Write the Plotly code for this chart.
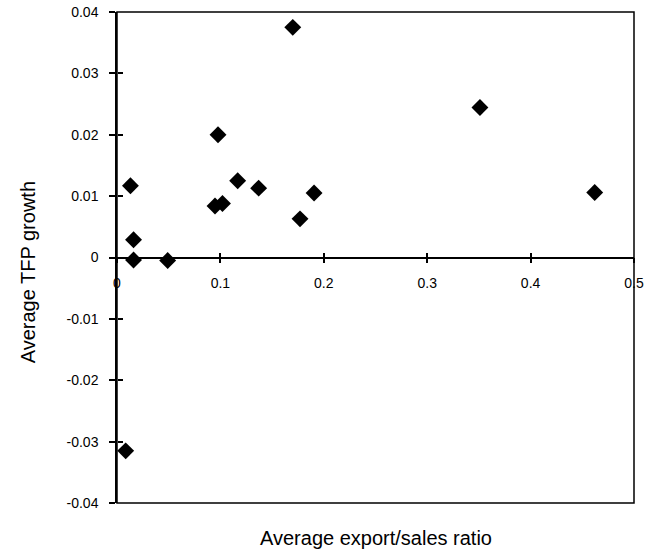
import plotly.graph_objects as go

export_ratio = [0.013, 0.016, 0.016, 0.049, 0.0977, 0.0948, 0.102, 0.1167, 0.137,
                0.170, 0.177, 0.1906, 0.351, 0.462, 0.0084]
tfp_growth = [0.0117, 0.0029, -0.0004, -0.0005, 0.0200, 0.0084, 0.0088, 0.0125, 0.0113,
              0.0375, 0.0063, 0.0105, 0.02445, 0.0106, -0.0315]

x_ticks = [0, 0.1, 0.2, 0.3, 0.4, 0.5]
x_labels = ["0", "0.1", "0.2", "0.3", "0.4", "0.5"]
y_ticks = [0.04, 0.03, 0.02, 0.01, 0, -0.01, -0.02, -0.03, -0.04]
y_labels = ["0.04", "0.03", "0.02", "0.01", "0", "-0.01", "-0.02", "-0.03", "-0.04"]

font = "Liberation Sans, Arial, sans-serif"

fig = go.Figure()
# invisible companion trace so the overlaid tick-only axes are drawn
fig.add_trace(go.Scatter(
    x=export_ratio, y=tfp_growth, mode="markers", xaxis="x2", yaxis="y2",
    marker=dict(size=1, opacity=0), showlegend=False, hoverinfo="skip"))
fig.add_trace(go.Scatter(
    x=export_ratio, y=tfp_growth, mode="markers",
    marker=dict(symbol="diamond", size=13, color="black"),
    showlegend=False, hoverinfo="x+y"))

fig.update_layout(
    width=649, height=554,
    margin=dict(l=117, r=15, t=12, b=51, autoexpand=False),
    paper_bgcolor="white", plot_bgcolor="white",
    font=dict(family=font, color="black", size=14),
    xaxis=dict(range=[0, 0.5], anchor="free", position=0.5,
               tickvals=x_ticks, ticktext=x_labels,
               showline=True, linecolor="black", linewidth=1.5,
               ticks="outside", ticklen=5, tickwidth=1.5, tickcolor="black",
               ticklabelstandoff=8, automargin=False,
               showgrid=False, zeroline=False,
               tickfont=dict(size=14, family=font)),
    yaxis=dict(range=[-0.04, 0.04],
               tickvals=y_ticks, ticktext=y_labels,
               showline=True, linecolor="black", linewidth=1.5,
               ticks="outside", ticklen=6, tickwidth=1.5, tickcolor="black",
               ticklabelstandoff=8, automargin=False,
               showgrid=False, zeroline=False,
               tickfont=dict(size=14, family=font)),
    xaxis2=dict(range=[0, 0.5], overlaying="x", anchor="free", position=0.5,
                tickvals=x_ticks, showticklabels=False, side="bottom",
                ticks="inside", ticklen=5, tickwidth=1.5, tickcolor="black",
                showline=False, showgrid=False, zeroline=False, automargin=False),
    yaxis2=dict(range=[-0.04, 0.04], overlaying="y", anchor="free", side="left",
                position=0,
                tickvals=y_ticks, showticklabels=False,
                ticks="inside", ticklen=5, tickwidth=1.5, tickcolor="black",
                showline=False, showgrid=False, zeroline=False, automargin=False),
    shapes=[dict(type="rect", xref="paper", yref="paper", x0=0, x1=1, y0=0, y1=1,
                 line=dict(color="black", width=1.5), layer="above")],
    annotations=[
        dict(text="Average export/sales ratio", xref="paper", yref="paper",
             x=0.501, y=-0.071, xanchor="center", yanchor="middle", showarrow=False,
             font=dict(size=20, family=font)),
        dict(text="Average TFP growth", xref="paper", yref="paper",
             x=-0.172, y=0.47, xanchor="center", yanchor="middle", showarrow=False,
             textangle=-90, font=dict(size=20, family=font)),
    ],
)

fig.write_html("out.html", post_script="document.body.style.margin='0px';",
               config={"displayModeBar": False})
